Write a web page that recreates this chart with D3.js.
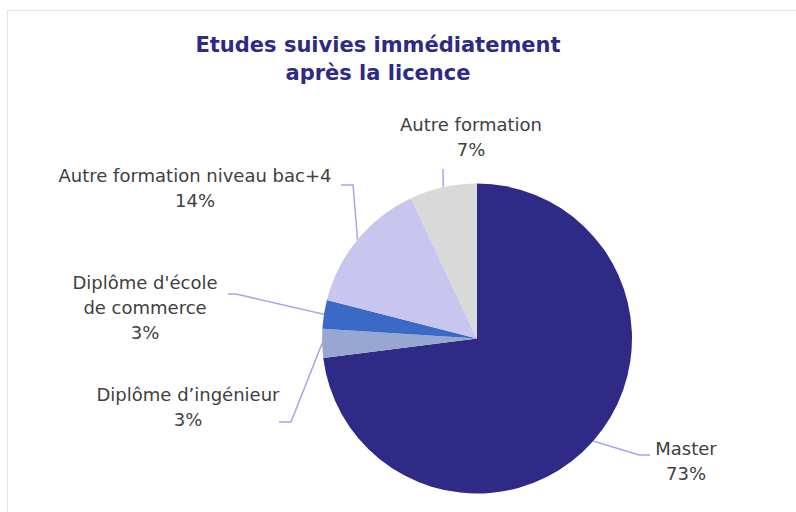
<!DOCTYPE html>
<html>
<head>
<meta charset="utf-8">
<script src="https://cdn.jsdelivr.net/npm/d3@7"></script>
<style>
  body { margin: 0; background: #fff; }
  text { font-family: "DejaVu Sans", Verdana, sans-serif; }
</style>
</head>
<body>
<script>
// data
var categories = ["Master", "Diplôme d’ingénieur", "Diplôme d'école de commerce", "Autre formation niveau bac+4", "Autre formation"];
var values = [73, 3, 3, 14, 7];
var labelLines = [["Master"], ["Diplôme d’ingénieur"], ["Diplôme d'école", "de commerce"], ["Autre formation niveau bac+4"], ["Autre formation"]];
var colors = ["#2E2A85", "#97A7D1", "#3A6AC6", "#C8C6EE", "#D9D9D9"];

var width = 796, height = 512;
var cx = 477, cy = 338.5, radius = 155;

// label placement: text centre x, first line y, elbow point, line end
var layout = [
  {tx: 686, ty: 449, elbow: [639, 455], end: [650, 455]},
  {tx: 188, ty: 395, elbow: [291, 422], end: [279, 422]},
  {tx: 145, ty: 283, elbow: [236, 294], end: [228, 294]},
  {tx: 195, ty: 176, elbow: [353, 185], end: [341, 185]},
  {tx: 471, ty: 125, elbow: [443, 169], end: [443, 169]}
];

var svg = d3.select("body").append("svg")
    .attr("width", width)
    .attr("height", height);

// frame
svg.append("rect")
    .attr("x", 7.5).attr("y", 10.5)
    .attr("width", 820).attr("height", 520)
    .attr("fill", "none")
    .attr("stroke", "#E4E4E4");

// title
var title = svg.append("text")
    .attr("text-anchor", "middle")
    .attr("fill", "#2E2A85")
    .attr("font-weight", "bold")
    .attr("font-size", "21px");
title.append("tspan").attr("x", 378).attr("y", 52).text("Etudes suivies immédiatement");
title.append("tspan").attr("x", 378).attr("y", 80).text("après la licence");

var pie = d3.pie().sort(null).value(function(d) { return d; });
var arcs = pie(values);
var arc = d3.arc().innerRadius(0).outerRadius(radius);

var g = svg.append("g").attr("transform", "translate(" + cx + "," + cy + ")");

g.selectAll("path.slice")
    .data(arcs)
    .enter()
    .append("path")
    .attr("class", "slice")
    .attr("d", arc)
    .attr("fill", function(d, i) { return colors[i]; });

// leader lines
svg.selectAll("polyline.leader")
    .data(arcs)
    .enter()
    .append("polyline")
    .attr("class", "leader")
    .attr("fill", "none")
    .attr("stroke", "#A9A5E8")
    .attr("stroke-width", 1.5)
    .attr("points", function(d, i) {
        var a = (d.startAngle + d.endAngle) / 2;
        var p = [cx + radius * Math.sin(a), cy - radius * Math.cos(a)];
        var L = layout[i];
        return [p, L.elbow, L.end].map(function(q) { return q.join(","); }).join(" ");
    });

// labels
var labels = svg.selectAll("text.lbl")
    .data(arcs)
    .enter()
    .append("text")
    .attr("class", "lbl")
    .attr("text-anchor", "middle")
    .attr("fill", "#404040")
    .attr("font-size", "18px");

labels.each(function(d, i) {
    var t = d3.select(this);
    var L = layout[i];
    var lines = labelLines[i].concat([values[i] + "%"]);
    lines.forEach(function(s, k) {
        t.append("tspan")
            .attr("x", L.tx)
            .attr("y", L.ty + 25 * k)
            .attr("dy", "0.35em")
            .text(s);
    });
});
</script>
</body>
</html>
